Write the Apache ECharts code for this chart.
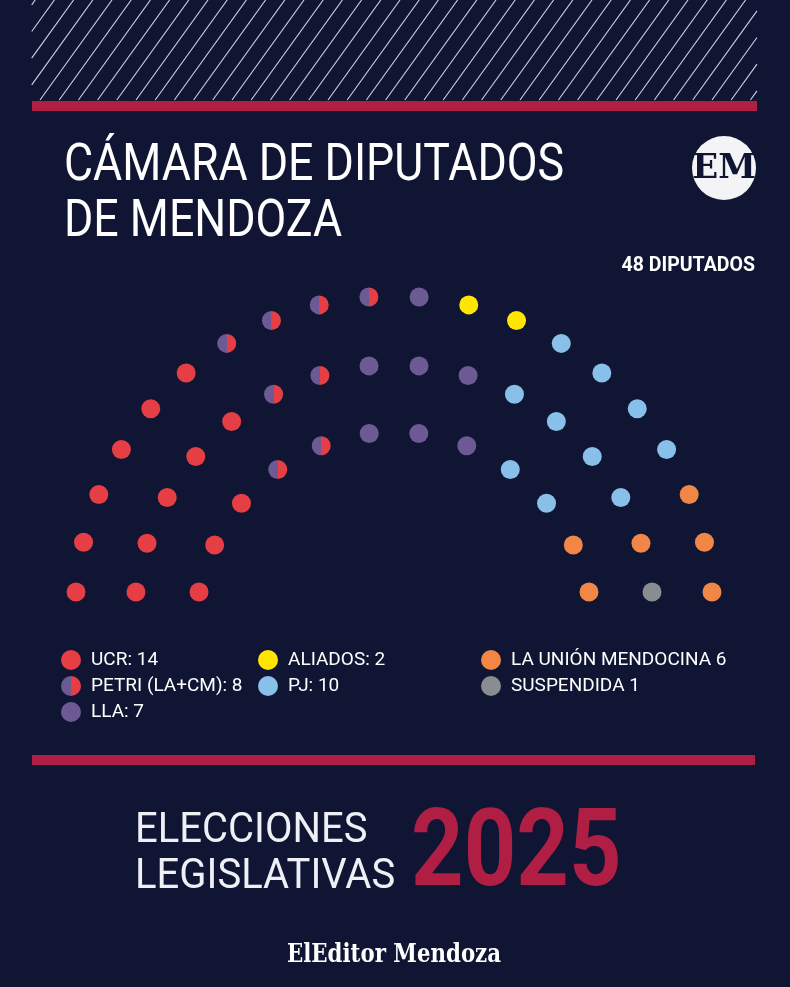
<!DOCTYPE html>
<html>
<head>
<meta charset="utf-8">
<title>Cámara de Diputados de Mendoza</title>
<script src="https://cdn.jsdelivr.net/npm/echarts@6/dist/echarts.min.js"></script>
<style>
  html, body { margin: 0; padding: 0; background: #0f1533; }
  #container { width: 790px; height: 987px; }
</style>
</head>
<body>
<div id="container"></div>
<script>
// bancas por bloque, contadas fila por fila (de izquierda a derecha)
var partidos = ['UCR', 'PETRI (LA+CM)', 'LLA', 'ALIADOS', 'PJ', 'LA UNIÓN MENDOCINA', 'SUSPENDIDA'];
var bancasFila1 = [3, 2, 3, 0, 2, 2, 0]; // fila interior
var bancasFila2 = [5, 2, 3, 0, 4, 1, 1]; // fila del medio
var bancasFila3 = [6, 4, 1, 2, 4, 3, 0]; // fila exterior
var separador = [': ', ': ', ': ', ': ', ': ', ' ', ' '];
var totalDiputados = 48;

// estilos
var rojo = '#e53e45', violeta = '#6d5a94';
var colores = [
    rojo,
    {type: 'linear', x: 0, y: 0, x2: 1, y2: 0, colorStops: [
        {offset: 0, color: violeta}, {offset: 0.5, color: violeta},
        {offset: 0.5, color: rojo}, {offset: 1, color: rojo}]},
    violeta, '#ffe500', '#88c0ea', '#f08746', '#898c90'
];
var fondo = '#0f1533';
var bordo = '#b01f43';

// geometria de cada fila (radio y cuanto baja el centro bajo la linea de base)
var filas = [
    {r: 198.8, d: 38.8, bancas: bancasFila1},
    {r: 260.1, d: 32.8, bancas: bancasFila2},
    {r: 318.8, d: 22.8, bancas: bancasFila3}
];

var puntos = partidos.map(function () { return []; });
filas.forEach(function (f) {
    var n = 0;
    f.bancas.forEach(function (b) { n += b; });
    var a0 = Math.asin(f.d / f.r);
    var paso = (Math.PI - 2 * a0) / (n - 1);
    var i = 0;
    for (var p = 0; p < partidos.length; p++) {
        for (var k = 0; k < f.bancas[p]; k++) {
            var ang = a0 + i * paso;
            puntos[p].push([-f.r * Math.cos(ang), f.r * Math.sin(ang) - f.d]);
            i++;
        }
    }
});

var totales = {};
partidos.forEach(function (p, j) {
    totales[p] = bancasFila1[j] + bancasFila2[j] + bancasFila3[j];
});

var series = partidos.map(function (p, j) {
    return {
        name: p,
        type: 'scatter',
        symbol: 'circle',
        symbolSize: 19,
        silent: true,
        itemStyle: {color: colores[j], opacity: 1},
        data: puntos[j]
    };
});

function leyenda(nombres, left) {
    return {
        data: nombres,
        orient: 'vertical',
        left: left,
        top: 650,
        itemWidth: 20,
        itemHeight: 20,
        itemGap: 6,
        icon: 'circle',
        selectedMode: false,
        padding: 0,
        formatter: function (name) {
            return name + separador[partidos.indexOf(name)] + totales[name];
        },
        textStyle: {color: '#ffffff', fontSize: 19, fontFamily: 'Roboto', padding: [0, 0, 0, 5]}
    };
}

// rayado superior
var rayas = [];
for (var x0 = 40 - 19.2 * 6; x0 < 757; x0 += 19.2) {
    var xa = x0, ya = 100, xb = x0 + 72, yb = 0;
    if (xa < 31.7) { ya = 100 - (31.7 - x0) / 0.72; xa = 31.7; }
    if (xb > 757) { yb = 100 - (757 - x0) / 0.72; xb = 757; }
    if (ya <= yb) continue;
    rayas.push({type: 'line', shape: {x1: xa, y1: ya, x2: xb, y2: yb},
        style: {stroke: '#d0d3e6', lineWidth: 1.1}, silent: true});
}

var titulo = "400 52px Roboto";
var graficos = rayas.concat([
    {type: 'rect', shape: {x: 32, y: 101, width: 725, height: 10}, style: {fill: bordo}},
    {type: 'rect', shape: {x: 32, y: 755, width: 723, height: 10}, style: {fill: bordo}},
    {type: 'text', x: 64, y: 167, scaleX: 0.86,
        style: {text: 'CÁMARA DE DIPUTADOS', font: titulo, fill: '#ffffff', verticalAlign: 'middle'}},
    {type: 'text', x: 64, y: 223, scaleX: 0.86,
        style: {text: 'DE MENDOZA', font: titulo, fill: '#ffffff', verticalAlign: 'middle'}},
    {type: 'circle', shape: {cx: 724, cy: 168, r: 32}, style: {fill: '#f4f4f6'}},
    {type: 'text', x: 724, y: 169, scaleX: 1,
        style: {text: 'EM', font: "bold 34px 'DejaVu Serif'", fill: fondo, align: 'center', verticalAlign: 'middle'}},
    {type: 'text', x: 755, y: 265.5, scaleX: 0.93,
        style: {text: totalDiputados + ' DIPUTADOS', font: "bold 21px Roboto", fill: '#ffffff', align: 'right', verticalAlign: 'middle'}},
    {type: 'text', x: 135, y: 831, scaleX: 0.93,
        style: {text: 'ELECCIONES', font: "400 43px Roboto", fill: '#eef0f6', verticalAlign: 'middle'}},
    {type: 'text', x: 135, y: 877, scaleX: 0.93,
        style: {text: 'LEGISLATIVAS', font: "400 43px Roboto", fill: '#eef0f6', verticalAlign: 'middle'}},
    {type: 'text', x: 411, y: 858, scaleX: 0.85,
        style: {text: '2025', font: "bold 108px Roboto", fill: bordo, verticalAlign: 'middle'}},
    {type: 'text', x: 394, y: 955, scaleX: 0.82,
        style: {text: 'ElEditor Mendoza', font: "bold 26px 'DejaVu Serif'", fill: '#ffffff', align: 'center', verticalAlign: 'middle'}}
]);

var dom = document.getElementById('container');
var myChart = echarts.init(dom, null, {renderer: 'canvas'});
var option = {
    backgroundColor: fondo,
    animation: false,
    grid: {left: 0, right: 0, top: 0, bottom: 0},
    xAxis: {type: 'value', min: -394, max: 396, show: false},
    yAxis: {type: 'value', min: -395, max: 592, show: false},
    legend: [
        leyenda(['UCR', 'PETRI (LA+CM)', 'LLA'], 61),
        leyenda(['ALIADOS', 'PJ'], 258),
        leyenda(['LA UNIÓN MENDOCINA', 'SUSPENDIDA'], 481)
    ],
    graphic: graficos,
    series: series
};
myChart.setOption(option, true);
</script>
</body>
</html>
